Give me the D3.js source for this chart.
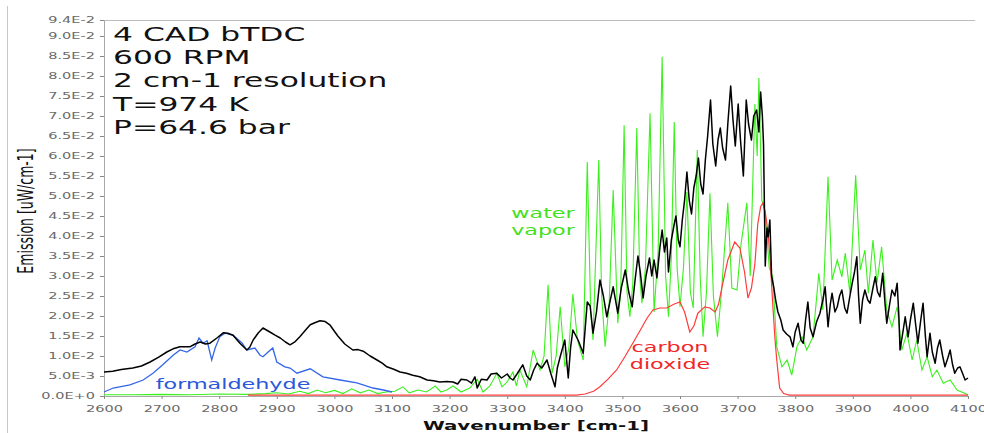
<!DOCTYPE html>
<html>
<head>
<meta charset="utf-8">
<script src="https://cdn.jsdelivr.net/npm/d3@7"></script>
<style>
  html, body { margin: 0; padding: 0; background: #fff; }
  svg { display: block; font-family: "DejaVu Sans", Verdana, sans-serif; }
</style>
</head>
<body>
<svg id="chart" width="984" height="433"></svg>
<script>
// emission values are in units of 1E-2 uW/cm-1, pairs are [wavenumber, emission]

const measured = [
  [2600,0.60],[2615,0.62],[2630,0.66],[2650,0.70],[2665,0.75],[2680,0.85],[2695,0.97],[2709,1.10],
  [2720,1.18],[2732,1.23],[2749,1.23],[2758,1.30],[2767,1.35],[2776,1.30],[2784,1.32],[2796,1.45],
  [2807,1.58],[2815,1.57],[2824,1.52],[2836,1.32],[2848,1.15],[2853,1.22],[2859,1.40],[2868,1.58],
  [2876,1.70],[2888,1.60],[2897,1.52],[2906,1.45],[2915,1.35],[2923,1.28],[2932,1.36],[2940,1.48],
  [2950,1.65],[2958,1.78],[2966,1.83],[2975,1.88],[2984,1.86],[2992,1.78],[3000,1.62],[3006,1.50],
  [3018,1.30],[3032,1.15],[3041,1.16],[3050,1.12],[3062,1.00],[3074,0.90],[3083,0.82],[3091,0.73],
  [3103,0.67],[3114,0.60],[3125,0.57],[3136,0.52],[3148,0.48],[3161,0.40],[3172,0.38],[3183,0.35],
  [3195,0.36],[3206,0.35],[3214,0.30],[3220,0.42],[3230,0.40],[3238,0.32],[3244,0.48],[3248,0.20],
  [3255,0.42],[3265,0.40],[3272,0.55],[3282,0.57],[3290,0.45],[3300,0.55],[3305,0.45],[3310,0.40],
  [3317,0.55],[3327,0.78],[3334,0.50],[3340,0.40],[3346,0.65],[3352,0.82],[3360,0.70],[3369,0.90],
  [3376,0.55],[3383,0.23],[3387,0.70],[3392,0.98],[3400,1.40],[3406,0.45],[3410,1.20],[3414,1.65],
  [3423,1.40],[3432,1.07],[3439,2.35],[3444,2.25],[3449,1.57],[3455,2.10],[3461,2.90],[3467,2.50],
  [3473,1.98],[3479,2.40],[3484,2.73],[3492,2.07],[3498,2.70],[3505,3.15],[3511,2.60],[3517,2.23],
  [3522,2.90],[3527,3.50],[3531,3.10],[3536,2.45],[3541,3.00],[3547,3.45],[3551,3.00],[3555,3.40],
  [3560,2.95],[3565,3.70],[3569,4.15],[3573,3.60],[3577,3.95],[3580,3.10],[3585,3.90],[3590,4.30],
  [3593,4.50],[3597,3.90],[3600,3.73],[3604,4.40],[3608,4.90],[3612,5.60],[3616,4.90],[3620,4.55],
  [3624,5.20],[3628,5.50],[3632,5.95],[3636,5.30],[3640,5.05],[3644,5.90],[3648,6.50],[3653,7.40],
  [3657,6.30],[3662,5.75],[3666,6.40],[3670,6.70],[3674,6.20],[3679,5.90],[3683,6.80],[3688,7.75],
  [3692,6.90],[3696,6.25],[3701,7.30],[3705,6.40],[3710,5.50],[3715,7.40],[3719,6.80],[3724,6.40],
  [3728,7.00],[3733,7.15],[3737,6.60],[3740,7.60],[3743,7.00],[3745,6.30],[3748,3.25],[3751,4.20],
  [3753,3.98],[3756,4.40],[3759,3.00],[3763,2.70],[3766,2.40],[3770,2.10],[3775,1.90],[3779,1.65],
  [3785,1.55],[3791,1.48],[3796,1.23],[3800,1.60],[3805,1.82],[3810,1.40],[3814,1.32],[3818,1.90],
  [3822,2.35],[3826,1.70],[3831,1.48],[3837,1.85],[3843,2.07],[3848,2.40],[3852,2.73],[3857,1.73],
  [3861,2.30],[3864,2.57],[3869,2.10],[3873,2.23],[3877,2.50],[3881,2.65],[3886,2.20],[3890,2.07],
  [3895,2.50],[3899,2.82],[3903,3.10],[3907,3.48],[3910,2.50],[3913,1.82],[3917,2.40],[3921,2.65],
  [3926,2.40],[3930,2.32],[3935,2.70],[3939,2.98],[3943,2.60],[3947,2.48],[3952,3.07],[3956,2.30],
  [3959,1.82],[3964,2.30],[3968,2.65],[3973,2.50],[3977,2.82],[3980,2.00],[3982,1.15],[3987,1.60],
  [3991,1.98],[3996,1.48],[4000,1.90],[4005,2.32],[4009,1.80],[4013,1.32],[4018,1.90],[4022,2.32],
  [4026,1.50],[4029,0.98],[4034,1.57],[4038,1.10],[4043,0.82],[4047,1.20],[4051,1.40],[4056,1.00],
  [4060,0.73],[4065,0.95],[4069,1.15],[4073,0.80],[4077,0.57],[4082,0.70],[4086,0.73],[4091,0.55],
  [4095,0.40],[4100,0.45]
];

const waterVapor = [
  [2600,0.03],[2650,0.03],[2700,0.04],[2750,0.03],[2800,0.05],[2850,0.04],[2880,0.06],[2900,0.08],
  [2920,0.05],[2940,0.12],[2955,0.06],[2970,0.15],[2985,0.08],[3000,0.14],[3015,0.06],[3030,0.18],
  [3045,0.08],[3060,0.15],[3075,0.06],[3090,0.10],[3105,0.12],[3119,0.23],[3130,0.08],[3145,0.15],
  [3160,0.10],[3175,0.25],[3185,0.10],[3195,0.15],[3206,0.25],[3220,0.10],[3235,0.20],[3248,0.42],
  [3258,0.10],[3270,0.25],[3282,0.57],[3291,0.23],[3300,0.35],[3310,0.60],[3316,0.25],[3322,0.65],
  [3334,0.23],[3345,1.15],[3357,0.65],[3364,1.00],[3371,2.78],[3378,0.57],[3385,1.00],[3392,2.23],
  [3400,0.73],[3407,1.20],[3414,2.55],[3422,1.40],[3432,0.90],[3439,5.85],[3445,2.10],[3449,1.40],
  [3459,5.90],[3464,2.50],[3470,1.23],[3477,2.30],[3484,5.15],[3492,1.82],[3497,2.60],[3503,6.77],
  [3508,2.60],[3513,1.98],[3518,2.80],[3525,6.70],[3530,3.00],[3534,2.32],[3540,3.20],[3548,7.07],
  [3555,2.10],[3562,3.60],[3569,8.48],[3575,3.00],[3580,1.98],[3585,3.50],[3590,6.85],[3595,3.20],
  [3600,2.23],[3606,3.20],[3612,5.10],[3618,2.60],[3623,2.20],[3630,6.15],[3635,3.00],[3640,1.48],
  [3646,2.60],[3652,5.07],[3658,2.50],[3665,1.48],[3672,2.60],[3683,4.83],[3690,2.70],[3699,2.65],
  [3706,3.80],[3716,4.83],[3722,3.00],[3730,7.30],[3734,6.00],[3737,7.95],[3742,4.90],[3748,4.57],
  [3755,3.20],[3761,2.98],[3768,1.23],[3777,0.73],[3786,0.90],[3794,0.52],[3803,1.23],[3812,1.48],
  [3820,1.15],[3831,1.48],[3841,3.07],[3848,2.15],[3857,5.48],[3864,2.90],[3873,3.40],[3881,2.98],
  [3887,3.57],[3895,2.57],[3905,5.52],[3913,3.15],[3921,3.65],[3927,2.57],[3935,3.90],[3942,2.82],
  [3950,3.73],[3959,2.15],[3968,1.73],[3977,2.23],[3985,1.15],[3994,1.57],[4003,0.90],[4011,1.40],
  [4020,0.65],[4029,0.98],[4038,0.48],[4046,0.65],[4057,0.32],[4069,0.40],[4081,0.15],[4100,0.03]
];

const carbonDioxide = [
  [2850,0.02],[3400,0.02],[3420,0.02],[3435,0.05],[3450,0.12],[3461,0.23],[3475,0.42],[3490,0.65],
  [3505,1.00],[3518,1.32],[3530,1.62],[3543,1.95],[3553,2.15],[3565,2.20],[3577,2.20],[3590,2.30],
  [3600,2.35],[3608,2.10],[3617,1.60],[3624,1.75],[3631,2.07],[3643,2.23],[3652,2.20],[3661,2.10],
  [3667,2.30],[3673,2.73],[3683,3.40],[3695,3.85],[3704,3.70],[3712,3.10],[3718,2.45],[3724,2.70],
  [3730,3.30],[3735,4.30],[3740,4.73],[3744,4.83],[3748,4.60],[3753,4.07],[3757,3.30],[3761,2.30],
  [3765,1.40],[3768,0.90],[3773,0.20],[3780,0.06],[3790,0.02],[4100,0.02]
];

const formaldehyde = [
  [2600,0.10],[2616,0.20],[2645,0.28],[2668,0.40],[2685,0.57],[2702,0.78],[2720,1.02],[2732,1.15],
  [2744,1.10],[2758,1.23],[2765,1.45],[2772,1.32],[2779,1.38],[2787,0.90],[2793,1.20],[2801,1.48],
  [2810,1.57],[2824,1.52],[2840,1.32],[2848,1.15],[2862,1.20],[2871,1.02],[2876,0.98],[2885,1.10],
  [2893,1.20],[2900,0.85],[2914,0.73],[2923,0.70],[2935,0.57],[2958,0.68],[2980,0.48],[3010,0.40],
  [3039,0.33],[3067,0.20],[3085,0.15],[3100,0.10]
];

const xTickValues = [2600,2700,2800,2900,3000,3100,3200,3300,3400,3500,3600,3700,3800,3900,4000,4100];
const yTickValues = [0,0.5,1,1.5,2,2.5,3,3.5,4,4.5,5,5.5,6,6.5,7,7.5,8,8.5,9,9.4];
const yTickLabels = ["0.0E+0","5.0E-3","1.0E-2","1.5E-2","2.0E-2","2.5E-2","3.0E-2","3.5E-2","4.0E-2",
  "4.5E-2","5.0E-2","5.5E-2","6.0E-2","6.5E-2","7.0E-2","7.5E-2","8.0E-2","8.5E-2","9.0E-2","9.4E-2"];

const infoLines = ["4 CAD bTDC", "600 RPM", "2 cm-1 resolution", "T=974 K", "P=64.6 bar"];

const svg = d3.select("#chart");
const margin = { left: 104, right: 16, top: 20, bottom: 37 };
const plotW = 968 - margin.left;
const plotH = 396 - margin.top;
const SX = 1.65; // the original picture is stretched sideways, text too

const x = d3.scaleLinear().domain([2600, 4100]).range([margin.left, margin.left + plotW]);
const y = d3.scaleLinear().domain([0, 9.4]).range([margin.top + plotH, margin.top]);

// outer panel edge
svg.append("line")
  .attr("x1", 7.5).attr("x2", 7.5).attr("y1", 6).attr("y2", 433)
  .attr("stroke", "#c8c8c8").attr("stroke-width", 1);

// frame top
svg.append("line")
  .attr("x1", margin.left).attr("x2", 975).attr("y1", margin.top + 0.5).attr("y2", margin.top + 0.5)
  .attr("stroke", "#bdbdbd");

// axes
const yAxis = d3.axisLeft(y)
  .tickValues(yTickValues)
  .tickFormat((d, i) => yTickLabels[i])
  .tickSize(4)
  .tickPadding(5);

const yg = svg.append("g")
  .attr("transform", `translate(${margin.left},0)`)
  .call(yAxis);

const xAxis = d3.axisBottom(x)
  .tickValues(xTickValues)
  .tickFormat(d3.format("d"))
  .tickSize(3)
  .tickPadding(7);

const xg = svg.append("g")
  .attr("transform", `translate(0,${margin.top + plotH})`)
  .call(xAxis);

[yg, xg].forEach(g => {
  g.select(".domain").attr("stroke", "#a8a8a8");
  g.selectAll(".tick line").attr("stroke", "#888");
  g.selectAll(".tick text")
    .attr("fill", "#6a6a6a")
    .attr("font-size", 8.8)
    .attr("font-family", "DejaVu Sans, sans-serif");
});

yg.selectAll(".tick text")
  .attr("x", -9 / SX)
  .attr("transform", `scale(${SX},1)`);
xg.selectAll(".tick text")
  .attr("transform", `scale(${SX},1)`);

// spectra
const line = d3.line().x(d => x(d[0])).y(d => y(d[1]));

const plot = svg.append("g");

plot.append("path")
  .datum(waterVapor)
  .attr("d", line)
  .attr("fill", "none")
  .attr("stroke", "#3cf01e")
  .attr("stroke-width", 1.1);

plot.append("path")
  .datum(carbonDioxide)
  .attr("d", line)
  .attr("fill", "none")
  .attr("stroke", "#ff3b3b")
  .attr("stroke-width", 1.2);

plot.append("path")
  .datum(formaldehyde)
  .attr("d", line)
  .attr("fill", "none")
  .attr("stroke", "#3366e8")
  .attr("stroke-width", 1.3);

plot.append("path")
  .datum(measured)
  .attr("d", line)
  .attr("fill", "none")
  .attr("stroke", "#000")
  .attr("stroke-width", 1.5)
  .attr("stroke-linejoin", "round");

// run conditions
svg.append("g").selectAll("text")
  .data(infoLines)
  .join("text")
  .attr("transform", (d, i) => `translate(113,${41 + i * 23.2}) scale(${SX},1)`)
  .attr("font-size", 19)
  .attr("fill", "#111")
  .text(d => d);

// species labels
function label(lines, cx, y0, color) {
  svg.append("g").selectAll("text")
    .data(lines)
    .join("text")
    .attr("transform", (d, i) => `translate(${cx},${y0 + i * 17}) scale(${SX},1)`)
    .attr("text-anchor", "middle")
    .attr("font-size", 13.5)
    .attr("fill", color)
    .text(d => d);
}
label(["water", "vapor"], 543, 218, "#44e01c");
label(["carbon", "dioxide"], 670, 352, "#f02828");
label(["formaldehyde"], 233, 389, "#2a58d8");

// axis titles
svg.append("text")
  .attr("transform", `translate(536,430) scale(${SX},1)`)
  .attr("text-anchor", "middle")
  .attr("font-size", 12)
  .attr("font-weight", "bold")
  .attr("fill", "#111")
  .text("Wavenumber [cm-1]");

svg.append("text")
  .attr("transform", `translate(33,211) scale(${SX},1) rotate(-90)`)
  .attr("text-anchor", "middle")
  .attr("font-size", 12.5)
  .attr("fill", "#111")
  .text("Emission [uW/cm-1]");
</script>
</body>
</html>
